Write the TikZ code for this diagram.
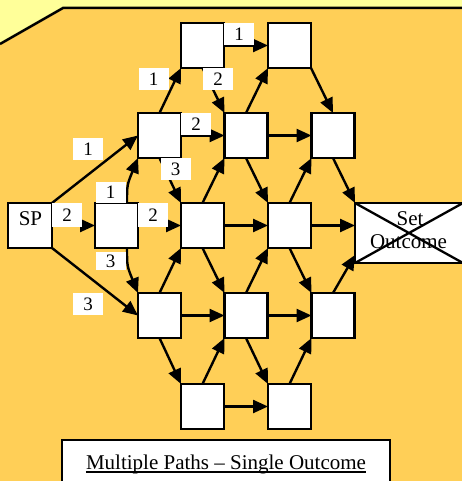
\documentclass[tikz,border=0pt]{standalone}
\usepackage{fontspec}
\setmainfont{Liberation Serif}
\usetikzlibrary{arrows.meta,calc}
\definecolor{bgyel}{HTML}{FFFF99}
\definecolor{bgor}{HTML}{FFCF57}
\begin{document}
\begin{tikzpicture}[x=1pt,y=-1pt,
 box/.style={draw,fill=white,line width=2.3pt,minimum width=43pt,minimum height=45pt,inner sep=0pt,outer sep=0pt},
 arr/.style={line width=2.4pt,-{Triangle[length=15pt,width=13pt]}},
 lab/.style={fill=white,inner sep=0pt,minimum width=30pt,minimum height=22pt,font=\fontsize{19}{21}\selectfont},
 txt/.style={inner sep=0pt,font=\fontsize{21}{23}\selectfont}]
\useasboundingbox (0,0) rectangle (462,481);
\fill[bgyel] (0,0) rectangle (462,481);
\fill[bgor] (0,44) -- (63,8) -- (462,8) -- (462,481) -- (0,481) -- cycle;
\draw[line width=2.5pt] (0,44) -- (63,8) -- (462,8);
% boxes
\node[box,minimum width=44pt] (SP) at (30,225.5) {};
\node[box] (C1) at (116.5,225.5) {};
\node[box] (B1) at (159.5,135.5) {};
\node[box] (D1) at (159.5,315.5) {};
\node[box] (A1) at (202.5,45.5) {};
\node[box] (C2) at (202.5,225.5) {};
\node[box] (E1) at (202.5,406.5) {};
\node[box] (B2) at (246,135.5) {};
\node[box] (D2) at (246,315.5) {};
\node[box] (A2) at (289.5,45.5) {};
\node[box] (C3) at (289.5,225.5) {};
\node[box] (E2) at (289.5,406.5) {};
\node[box] (B3) at (333,135.5) {};
\node[box] (D3) at (333,315.5) {};
\node[box,minimum width=108pt,minimum height=60pt] (SO) at (409,233) {};
\draw[line width=2.3pt] (SO.north west) -- (SO.south east) (SO.south west) -- (SO.north east);
\node[txt,anchor=base] (SPt) at (30.5,225) {SP};
\node[txt,anchor=base] (SOt1) at (410,225) {Set};
\node[txt,anchor=base] (SOt2) at (408.5,248) {Outcome};
% connectors
\coordinate (C1t) at ($(C1.north west)+(32,0)$);
\coordinate (C1b) at ($(C1.south west)+(32,0)$);
\coordinate (SOin) at ($(SO.south west)+(0,-8)$);
\draw[arr] (SP.north east) -- (B1.west);
\draw[arr] (SP.east) -- (C1.west);
\draw[arr] (SP.south east) -- (D1.west);
\draw[arr] (C1t) .. controls ($(C1t)+(0,-18)$) .. (B1.south west);
\draw[arr] (C1.east) -- (C2.west);
\draw[arr] (C1b) .. controls ($(C1b)+(0,18)$) .. (D1.north west);
\draw[arr] (B1.north) -- (A1.south west);
\draw[arr] (B1.east) -- (B2.west);
\draw[arr] (B1.south) -- (C2.north west);
\draw[arr] (A1.east) -- (A2.west);
\draw[arr] (A1.south) -- (B2.north west);
\draw[arr] (A2.south east) -- (B3.north);
\draw[arr] (B2.north) -- (A2.south west);
\draw[arr] (B2.east) -- (B3.west);
\draw[arr] (B2.south) -- (C3.north west);
\draw[arr] (B3.south) -- (SO.north west);
\draw[arr] (C2.north) -- (B2.south west);
\draw[arr] (C2.east) -- (C3.west);
\draw[arr] (C2.south) -- (D2.north west);
\draw[arr] (C3.north) -- (B3.south west);
\draw[arr] (C3.east) -- (C3.east -| SO.west);
\draw[arr] (C3.south) -- (D3.north west);
\draw[arr] (D1.north) -- (C2.south west);
\draw[arr] (D1.east) -- (D2.west);
\draw[arr] (D1.south) -- (E1.north west);
\draw[arr] (D2.north) -- (C3.south west);
\draw[arr] (D2.east) -- (D3.west);
\draw[arr] (D2.south) -- (E2.north west);
\draw[arr] (D3.north) -- (SOin);
\draw[arr] (E1.north) -- (D2.south west);
\draw[arr] (E1.east) -- (E2.west);
\draw[arr] (E2.north) -- (D3.south west);
% labels
\node[lab] (l1) at (88,149) {1};
\node[lab,minimum height=24pt] (l2) at (67,215) {2};
\node[lab] (l3) at (88,304) {3};
\node[lab,minimum height=21pt] (l4) at (110.5,192.5) {1};
\node[lab,minimum height=24pt] (l5) at (153,215) {2};
\node[lab,minimum height=18pt] (l6) at (110.5,261) {3};
\node[lab] (l7) at (153.5,79) {1};
\node[lab] (l8) at (196,124.5) {2};
\node[lab] (l9) at (175.5,169) {3};
\node[lab] (l10) at (239,34.5) {1};
\node[lab] (l11) at (218,79) {2};
% caption
\node[draw,fill=white,line width=2.3pt,minimum width=328pt,minimum height=60pt,inner sep=0pt] (cap) at (226,470) {};
\node[anchor=base,inner sep=0pt,font=\fontsize{21}{23}\selectfont] (capt) at (226,469) {Multiple Paths – Single Outcome};
\draw[line width=1.5pt] ($(capt.base west)+(0,3)$) -- ($(capt.base east)+(0,3)$);
\end{tikzpicture}
\end{document}
